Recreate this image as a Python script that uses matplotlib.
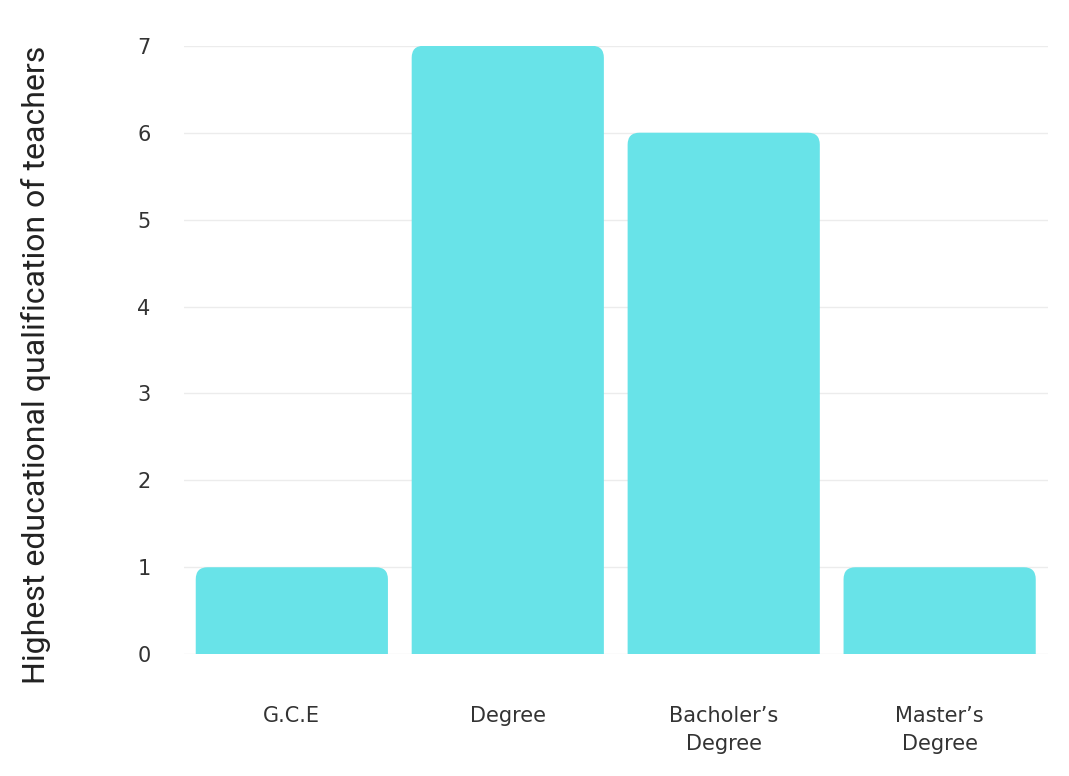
import matplotlib
matplotlib.use("Agg")
import matplotlib.pyplot as plt
from matplotlib.patches import FancyBboxPatch

categories = ["G.C.E", "Degree", "Bacholer\u2019s\nDegree", "Master\u2019s\nDegree"]
counts = [1, 7, 6, 1]
y_ticks = [0, 1, 2, 3, 4, 5, 6, 7]
y_label = "Highest educational qualification of teachers"

bar_color = "#68e3e8"

fig = plt.figure(figsize=(10.69, 7.76), dpi=100)
ax = fig.add_axes([0.172, 0.157, 0.808, 0.784])

x = list(range(len(categories)))
bars = ax.bar(x, counts, width=0.89, color=bar_color)

# swap the plain bars for ones with rounded top corners;
# the bottom corners hang below 0 and get clipped by the axes
for b in bars:
    b.set_visible(False)
    bx, by = b.get_xy()
    w, h = b.get_width(), b.get_height()
    ax.add_patch(FancyBboxPatch((bx, by - 0.5), w, h + 0.5,
                                boxstyle="round,pad=0,rounding_size=0.055",
                                mutation_aspect=2.5, fc=bar_color, ec="none",
                                zorder=3))

ax.set_xlim(-0.5, 3.5)
ax.set_ylim(0, 7)
ax.set_yticks(y_ticks)
ax.set_yticklabels([str(v) for v in y_ticks], fontsize=15, color="#333333",
                   family="DejaVu Sans")
ax.set_xticks(x)
ax.set_xticklabels(categories, fontsize=15, color="#333333",
                   family="DejaVu Sans", linespacing=1.55)
ax.tick_params(axis="x", length=0, pad=37)
ax.tick_params(axis="y", length=0, pad=24)
ax.grid(axis="y", color="#ececec", linewidth=1)
ax.set_axisbelow(True)
for s in ax.spines.values():
    s.set_visible(False)

fig.text(0.034, 0.53, y_label, rotation=90, va="center", ha="center",
         fontsize=23, color="#222222", family="Roboto")

fig.savefig("out.png", dpi=100, facecolor="white")
